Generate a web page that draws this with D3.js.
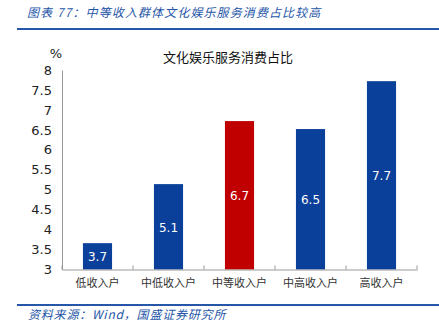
<!DOCTYPE html>
<html><head><meta charset="utf-8">
<script src="https://cdn.jsdelivr.net/npm/d3@7"></script>
<style>body{margin:0;background:#fff}svg{display:block}</style>
</head><body>
<script>
const categories = ["低收入户","中低收入户","中等收入户","中高收入户","高收入户"];
const values = [3.66, 5.14, 6.72, 6.52, 7.72];
const highlight = [false, false, true, false, false];
const yTicks = [3,3.5,4,4.5,5,5.5,6,6.5,7,7.5,8];
const headerText = "图表 77：中等收入群体文化娱乐服务消费占比较高";
const chartTitle = "文化娱乐服务消费占比";
const sourceText = "资料来源：Wind，国盛证券研究所";

const W = 439, H = 332;
const svg = d3.select("body").append("svg").attr("width", W).attr("height", H);
const cjk = "'Noto Sans CJK SC', sans-serif";
const blueText = "#2556a8";

svg.append("text").attr("x", 27).attr("y", 17).attr("fill", blueText)
  .attr("font-family", cjk).attr("font-size", 12).attr("font-style", "italic")
  .attr("letter-spacing", 1.1)
  .text(headerText);
svg.append("line").attr("x1", 17).attr("x2", W).attr("y1", 29).attr("y2", 29)
  .attr("stroke", "#2556a8").attr("stroke-width", 2);

svg.append("line").attr("x1", 17).attr("x2", W).attr("y1", 305).attr("y2", 305)
  .attr("stroke", "#2556a8").attr("stroke-width", 2);
svg.append("text").attr("x", 28).attr("y", 319).attr("fill", blueText)
  .attr("font-family", cjk).attr("font-size", 12).attr("font-style", "italic")
  .attr("letter-spacing", 0.8)
  .text(sourceText);

const x = d3.scaleBand().domain(categories).range([62, 417]).paddingInner(0.59).paddingOuter(0.295);
const y = d3.scaleLinear().domain([3, 8]).range([269.5, 70]);

svg.append("text").attr("x", 228).attr("y", 62).attr("text-anchor", "middle")
  .attr("font-family", cjk).attr("font-size", 13).attr("fill", "#111").text(chartTitle);

// y axis
const yAxis = svg.append("g").attr("transform", "translate(62,0)")
  .call(d3.axisLeft(y).tickValues(yTicks).tickSize(0).tickPadding(10).tickFormat(d3.format("")));
yAxis.select(".domain").attr("stroke", "#999");
yAxis.selectAll("text").attr("font-family", "'DejaVu Sans', sans-serif").attr("font-size", 13).attr("fill", "#222");
svg.append("text").attr("x", 56).attr("y", 58).attr("text-anchor", "middle")
  .attr("font-family", "'DejaVu Sans', sans-serif").attr("font-size", 13).attr("fill", "#222").text("%");

// bars
svg.selectAll("rect.bar").data(values).join("rect").attr("class", "bar")
  .attr("x", (d, i) => x(categories[i]))
  .attr("width", x.bandwidth())
  .attr("y", d => y(d))
  .attr("height", d => y(3) - y(d))
  .attr("fill", (d, i) => highlight[i] ? "#c00000" : "#0a3f9a");

svg.selectAll("text.lbl").data(values).join("text").attr("class", "lbl")
  .attr("x", (d, i) => x(categories[i]) + x.bandwidth() / 2)
  .attr("y", d => (y(d) + y(3)) / 2 + 5)
  .attr("text-anchor", "middle").attr("fill", "#fff")
  .attr("font-family", "'DejaVu Sans', sans-serif").attr("font-size", 12)
  .text(d => d3.format(".1f")(d));

// x axis
const xAxis = svg.append("g").attr("transform", `translate(0,${y(3)})`)
  .call(d3.axisBottom(x).tickSize(0).tickPadding(10));
xAxis.select(".domain").attr("stroke", "#999");
xAxis.selectAll("text").attr("font-family", cjk).attr("font-size", 11).attr("fill", "#333");
const bounds = d3.range(categories.length + 1).map(i => 62 + i * x.step());
svg.selectAll("line.xt").data(bounds).join("line").attr("class", "xt")
  .attr("x1", d => d).attr("x2", d => d).attr("y1", y(3)).attr("y2", y(3) - 4)
  .attr("stroke", "#999");
</script>
</body></html>
